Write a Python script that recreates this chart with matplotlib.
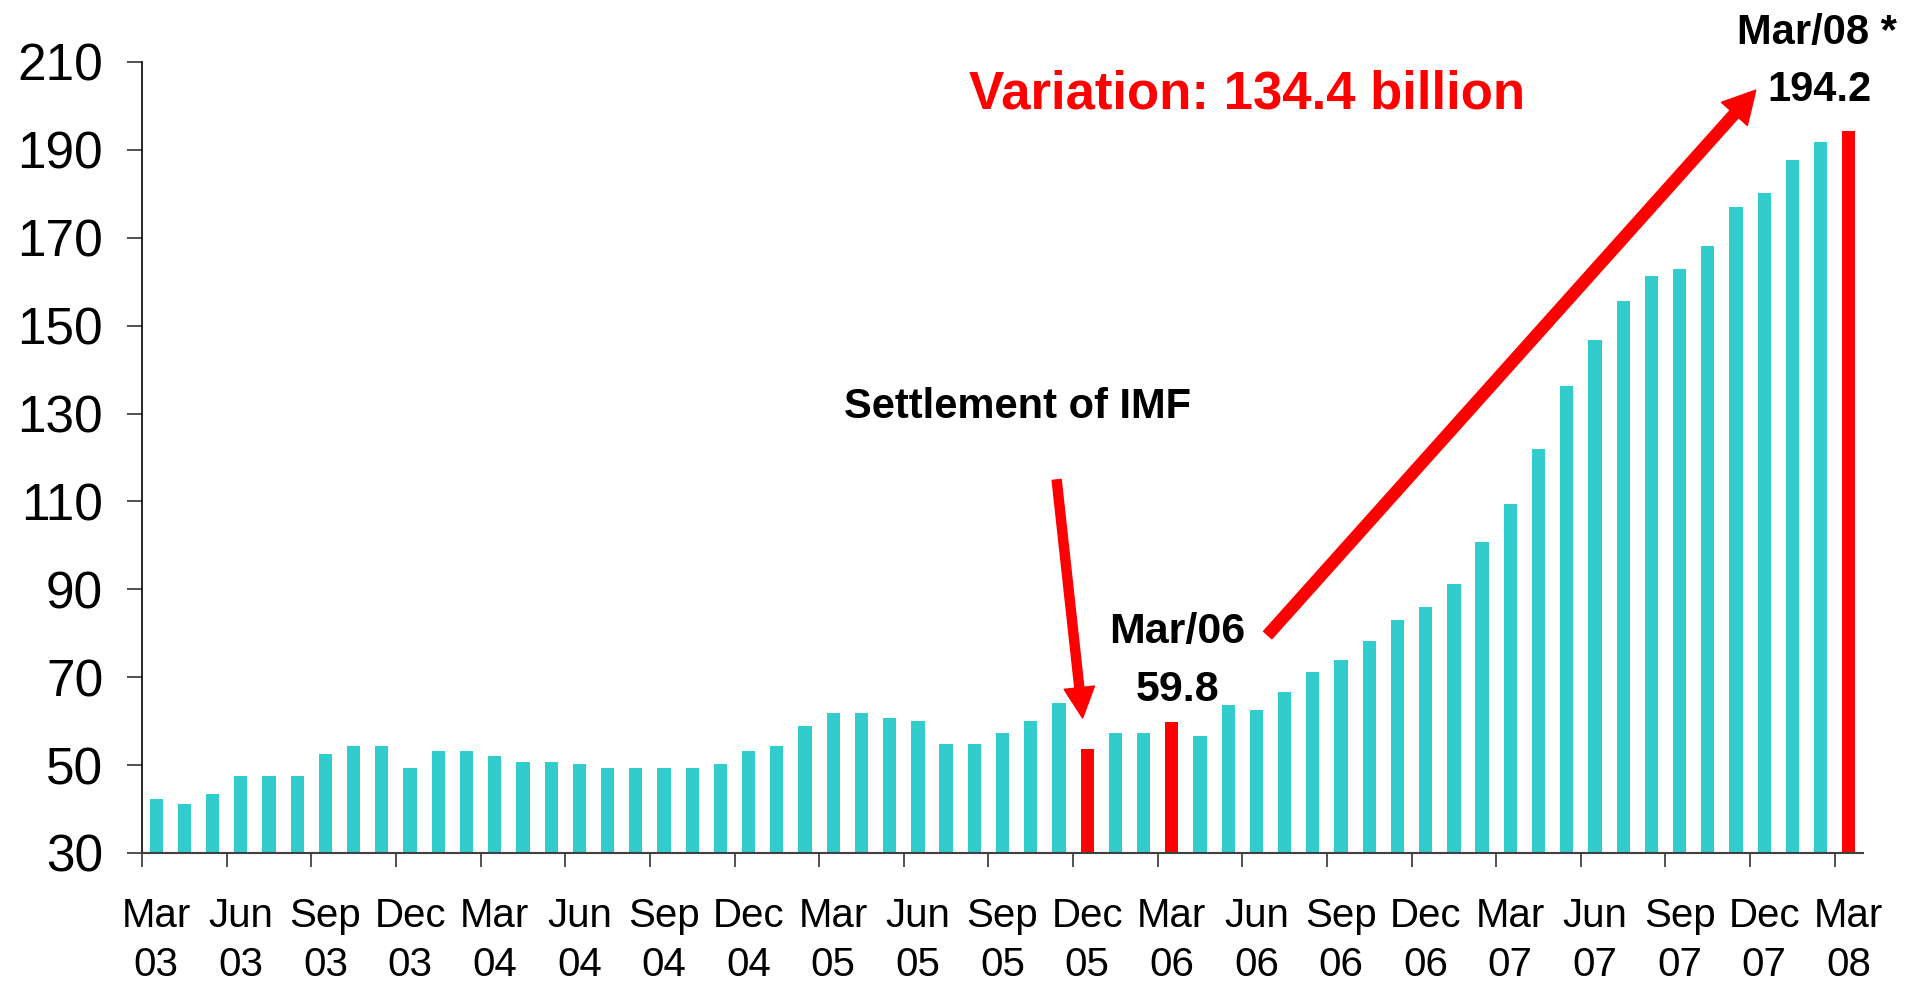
import matplotlib.pyplot as plt
import numpy as np
import pandas as pd

plt.rcParams['font.family'] = ['Liberation Sans', 'DejaVu Sans']

# monthly reserves, Mar/03 .. Mar/08 (US$ billion)
months = [d.strftime('%b/%y') for d in pd.date_range('2003-03-01', '2008-03-01', freq='MS')]
reserves = [42.2, 41.1, 43.4, 47.5, 47.5, 47.5, 52.5, 54.3, 54.3, 49.3,
            53.1, 53.1, 52.0, 50.6, 50.6, 50.2, 49.3, 49.3, 49.3, 49.3,
            50.2, 53.1, 54.3, 58.8, 61.8, 61.8, 60.7, 60.0, 54.7, 54.7,
            57.2, 60.0, 64.1, 53.6, 57.2, 57.2, 59.8, 56.6, 63.6, 62.5,
            66.6, 71.1, 73.9, 78.3, 83.1, 85.9, 91.1, 100.8, 109.5, 122.0,
            136.2, 146.8, 155.5, 161.2, 162.8, 168.1, 176.9, 180.3, 187.6, 191.7,
            194.2]
highlight = ['Dec/05', 'Mar/06', 'Mar/08']
tick_labels = ['Mar\n03', 'Jun\n03', 'Sep\n03', 'Dec\n03', 'Mar\n04', 'Jun\n04',
               'Sep\n04', 'Dec\n04', 'Mar\n05', 'Jun\n05', 'Sep\n05', 'Dec\n05',
               'Mar\n06', 'Jun\n06', 'Sep\n06', 'Dec\n06', 'Mar\n07', 'Jun\n07',
               'Sep\n07', 'Dec\n07', 'Mar\n08']

teal = '#33CCCC'
red = '#FF0000'

fig = plt.figure(figsize=(19.07, 9.81), dpi=100)
ax = fig.add_axes([0.0745, 0.1305, 0.9024, 0.8063])

x = np.arange(len(reserves))
colors = [red if m in highlight else teal for m in months]
ax.bar(x, reserves, width=0.47, color=colors)

ax.set_xlim(-0.5, len(reserves) - 0.5)
ax.set_ylim(30, 210)
ax.set_yticks(range(30, 211, 20))

# tick marks between quarters, labels under the first bar of each quarter
qpos = np.arange(0, len(reserves), 3)
ax.set_xticks(qpos - 0.5)
ax.set_xticklabels([])
ax.set_xticks(qpos, minor=True)
ax.set_xticklabels(tick_labels, minor=True, linespacing=1.36)

ax.tick_params(axis='y', labelsize=37, length=11, width=1.2, pad=17, color='#333333')
ax.tick_params(axis='x', which='major', length=10, width=1.2, color='#333333')
ax.tick_params(axis='x', which='minor', length=0, labelsize=29, pad=32)

for s in ['top', 'right']:
    ax.spines[s].set_visible(False)
ax.spines['left'].set_linewidth(1.2)
ax.spines['bottom'].set_linewidth(1.5)
ax.spines['bottom'].set_color('#404040')

# annotations
ax.text(30.54, 131.5, 'Settlement of IMF', fontsize=30, fontweight='bold',
        ha='center', va='center')
ax.annotate('', xy=(32.84, 60.7), xytext=(31.92, 114.9),
            arrowprops=dict(arrowstyle='simple,head_length=2.2,head_width=2.2,tail_width=0.65',
                            color=red, mutation_scale=10, shrinkA=0, shrinkB=0))

ax.text(36.18, 80.3, 'Mar/06', fontsize=31, fontweight='bold', ha='center', va='center')
ax.text(36.2, 67.1, '59.8', fontsize=31, fontweight='bold', ha='center', va='center')

ax.annotate('', xy=(56.7, 203.6), xytext=(39.4, 79.6),
            arrowprops=dict(arrowstyle='simple,head_length=2.3,head_width=2.5,tail_width=0.8',
                            color=red, mutation_scale=10, shrinkA=0, shrinkB=0))
ax.text(38.66, 202.7, 'Variation: 134.4 billion', fontsize=38, fontweight='bold',
        color=red, ha='center', va='center')

ax.text(56.02, 216.6, 'Mar/08 *', fontsize=30, fontweight='bold', ha='left', va='center')
ax.text(58.96, 203.6, '194.2', fontsize=30, fontweight='bold', ha='center', va='center')

fig.savefig('out.png', dpi=100)
